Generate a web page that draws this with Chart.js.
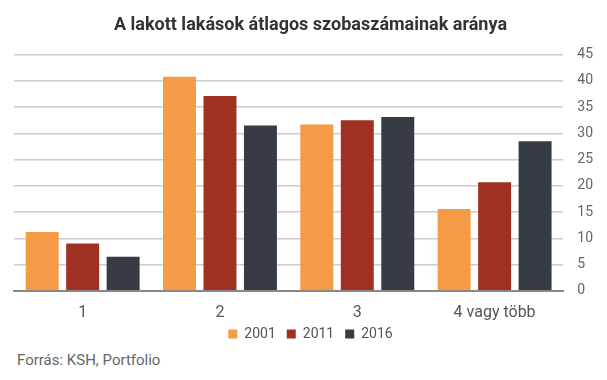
<!DOCTYPE html>
<html>
<head>
<meta charset="utf-8">
<script src="https://cdn.jsdelivr.net/npm/chart.js@4"></script>
<style>
  html, body { margin: 0; padding: 0; background: #fff; }
  #wrap { position: relative; width: 607px; height: 380px; }
  #source {
    position: absolute; left: 17px; top: 351px;
    font: 15px Roboto, sans-serif; color: #666;
  }
  #c { position: absolute; left: 0; top: 0; }
</style>
</head>
<body>
<div id="wrap">
  <canvas id="c" width="607" height="351"></canvas>
  <div id="source">Forrás: KSH, Portfolio</div>
</div>
<script>
// Room count categories and share (%) per census year
const categories = ["1", "2", "3", "4 vagy több"];
const years = ["2001", "2011", "2016"];
const v2001 = [11.2, 40.8, 31.7, 15.6];
const v2011 = [9.0, 37.1, 32.5, 20.7];
const v2016 = [6.5, 31.5, 33.1, 28.5];
const yTicks = [0, 5, 10, 15, 20, 25, 30, 35, 40, 45];

const colors = ["#F59B45", "#A03021", "#373B44"];
const series = [v2001, v2011, v2016];

// Legend keeps its wide item spacing but takes a bit less vertical room.
const LIFT = 4;
const legendLift = {
  id: "legendLift",
  beforeLayout(chart) {
    const lg = chart.legend;
    if (lg && !lg._lifted) {
      const fit = lg.fit.bind(lg);
      lg.fit = () => { fit(); lg.height -= LIFT; };
      lg._lifted = true;
    }
  },
  afterLayout(chart) {
    const lg = chart.legend;
    if (lg) { lg.top -= LIFT; lg.bottom -= LIFT; }
  },
};

new Chart(document.getElementById("c"), {
  type: "bar",
  data: {
    labels: categories,
    datasets: series.map((vals, i) => ({
      label: years[i],
      data: vals,
      backgroundColor: colors[i],
      borderWidth: 0,
      categoryPercentage: 0.884,
      barPercentage: 0.815,
    })),
  },
  options: {
    responsive: false,
    animation: false,
    layout: { padding: { left: 14, right: 0, top: 0, bottom: 0 } },
    scales: {
      x: {
        grid: { display: false, drawTicks: false },
        border: { color: "#888", width: 2 },
        ticks: { color: "#555", font: { family: "Roboto", size: 16 }, padding: 13 },
        afterFit: (s) => { s.height -= 16; },
      },
      y: {
        position: "right",
        min: 0,
        max: 45,
        afterBuildTicks: (s) => { s.ticks = yTicks.map((v) => ({ value: v })); },
        grid: { color: "#ccc", lineWidth: 1.5, drawTicks: false },
        border: { display: false },
        ticks: { color: "#666", font: { family: "Roboto", size: 14 }, padding: 14 },
      },
    },
    plugins: {
      title: {
        display: true,
        text: "A lakott lakások átlagos szobaszámainak aránya",
        color: "#333",
        font: { family: "Roboto", size: 18, weight: "bold" },
        padding: { top: 15, bottom: 18 },
      },
      legend: {
        position: "bottom",
        labels: {
          boxWidth: 9,
          boxHeight: 9,
          padding: 11,
          color: "#555",
          font: { family: "Roboto", size: 14 },
        },
      },
      tooltip: { enabled: false },
    },
  },
  plugins: [legendLift],
});
</script>
</body>
</html>
